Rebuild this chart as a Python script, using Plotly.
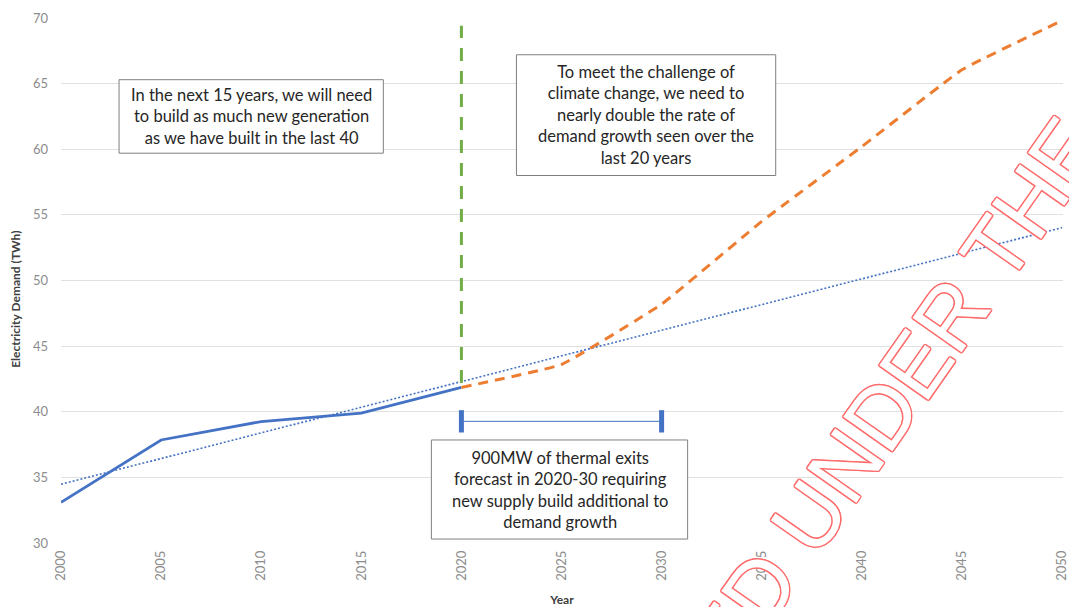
import numpy as np
import plotly.graph_objects as go

# Historical electricity demand (TWh)
hist_years = [2000, 2005, 2010, 2015, 2020]
hist_demand = [33.1, 37.85, 39.25, 39.9, 41.85]

# Projected demand pathway (TWh)
proj_years = [2020, 2025, 2030, 2035, 2040, 2045, 2050]
proj_demand = [41.85, 43.6, 48.2, 54.5, 60.2, 66.05, 69.8]

# Thermal exit window
exit_years = [2020, 2030]
exit_level = 39.27
exit_cap = 0.85

# Vertical marker at 2020
marker_year = 2020
marker_range = [42.2, 69.4]

x_ticks = list(range(2000, 2051, 5))
y_ticks = list(range(30, 71, 5))

# Linear trend fitted to the historical series, extended to 2050
slope, intercept = np.polyfit(hist_years, hist_demand, 1)
trend_years = [2000, 2050]
trend_vals = [slope * y + intercept for y in trend_years]

BLUE = "#4472C4"
ORANGE = "#ED7D31"
GREEN = "#70AD47"
FONT = "Lato"

fig = go.Figure()

fig.add_trace(go.Scatter(x=trend_years, y=trend_vals, mode="lines",
                         line=dict(color=BLUE, width=1.6, dash="2px,2px"),
                         hoverinfo="skip"))
fig.add_trace(go.Scatter(x=hist_years, y=hist_demand, mode="lines",
                         line=dict(color=BLUE, width=2.8)))
fig.add_trace(go.Scatter(x=proj_years, y=proj_demand, mode="lines",
                         line=dict(color=ORANGE, width=3, dash="10px,7px", shape="spline",
                                   smoothing=0.3)))
fig.add_trace(go.Scatter(x=[marker_year, marker_year], y=marker_range, mode="lines",
                         line=dict(color=GREEN, width=3, dash="13px,10px")))

# Exit window bracket
fig.add_trace(go.Scatter(x=exit_years, y=[exit_level, exit_level], mode="lines",
                         line=dict(color=BLUE, width=1)))
for yr in exit_years:
    fig.add_trace(go.Scatter(x=[yr, yr], y=[exit_level - exit_cap, exit_level + exit_cap],
                             mode="lines", line=dict(color=BLUE, width=5)))

# Callout boxes: (x0, x1, y0, y1, text)
callouts = [
    (2002.9, 2016.1, 59.7, 65.3,
     "In the next 15 years, we will need<br>to build as much new generation<br>as we have built in the last 40"),
    (2022.75, 2035.7, 58.0, 67.2,
     "To meet the challenge of<br>climate change, we need to<br>nearly double the rate of<br>demand growth seen over the<br>last 20 years"),
    (2018.5, 2031.3, 30.3, 37.85,
     "900MW of thermal exits<br>forecast in 2020-30 requiring<br>new supply build additional to<br>demand growth"),
]
for x0, x1, y0, y1, txt in callouts:
    fig.add_shape(type="rect", x0=x0, x1=x1, y0=y0, y1=y1, xref="x", yref="y",
                  line=dict(color="#7f7f7f", width=1), fillcolor="white", layer="above")
    fig.add_annotation(x=(x0 + x1) / 2, y=(y0 + y1) / 2, xref="x", yref="y", text=txt,
                       showarrow=False, align="center", xanchor="center", yanchor="middle",
                       font=dict(family=FONT, size=16.5, color="#262626"))

# Release stamp across the lower right
outline = ",".join(f"{dx}px {dy}px 0 #ff6b6b" for dx, dy in
                   [(-1, -1), (1, -1), (-1, 1), (1, 1), (0, 1.5), (0, -1.5), (1.5, 0), (-1.5, 0)])
fig.add_annotation(x=0.832, y=0.283, xref="paper", yref="paper",
                   xanchor="center", yanchor="middle",
                   text="ED UNDER THE", showarrow=False, textangle=-55,
                   font=dict(family="Liberation Sans", size=87, color="white", shadow=outline))

# Vertical axis title
fig.add_annotation(x=-0.045, y=0.465, xref="paper", yref="paper",
                   xanchor="center", yanchor="middle", textangle=-90, showarrow=False,
                   text="<b>Electricity Demand (TWh)</b>",
                   font=dict(family=FONT, size=12, color="#404040"))

fig.update_layout(
    width=1069, height=607,
    margin=dict(l=61, r=6, t=18, b=64),
    paper_bgcolor="white", plot_bgcolor="white",
    showlegend=False,
    font=dict(family=FONT),
)
fig.update_xaxes(range=[2000, 2050.05], tickvals=x_ticks, tickangle=-90,
                 showgrid=False, zeroline=False, showline=False, automargin=False,
                 ticklabeloverflow="allow",
                 tickfont=dict(family=FONT, size=13, color="#8c8c8c"),
                 ticklabelstandoff=4,
                 title=dict(text="<b>Year</b>", font=dict(family=FONT, size=12, color="#404040"),
                            standoff=16))
fig.update_yaxes(range=[30, 70], tickvals=y_ticks, automargin=False,
                 showgrid=True, gridcolor="#e0e0e0", gridwidth=1, zeroline=False, showline=False,
                 tickfont=dict(family=FONT, size=13, color="#8c8c8c"),
                 ticklabelstandoff=12)

fig.write_html("out.html")
